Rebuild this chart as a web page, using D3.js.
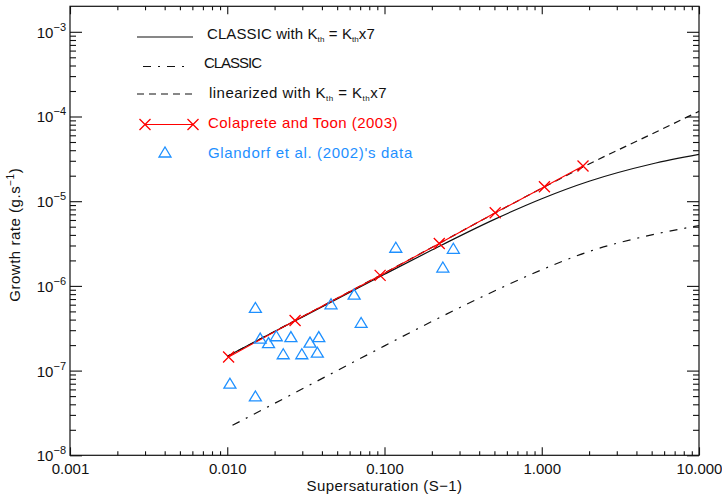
<!DOCTYPE html>
<html><head><meta charset="utf-8">
<script src="https://cdn.jsdelivr.net/npm/d3@7"></script>
<style>body{margin:0;background:#fff}svg{display:block}text{font-family:"Liberation Sans",Arial,sans-serif}</style>
</head><body><svg id="c" width="722" height="500"></svg>
<script>
// ---- tick labels ----
const xTickValues = [0.001, 0.01, 0.1, 1, 10];
const xTickLabels = ["0.001", "0.010", "0.100", "1.000", "10.000"];
const yTickValues = [1e-8, 1e-7, 1e-6, 1e-5, 1e-4, 1e-3];
const yTickExponents = ["−8", "−7", "−6", "−5", "−4", "−3"];

// ---- series: CLASSIC with Kth = Kth x7 (solid) ----
const classicK7X = [0.01, 0.02, 0.05, 0.1, 0.2, 0.5, 1, 2, 5, 10];
const classicK7Y = [1.48e-7, 2.9e-7, 7.0e-7, 1.37e-6, 2.65e-6, 6.1e-6, 1.07e-5, 1.72e-5, 2.75e-5, 3.57e-5];
// ---- CLASSIC (dash-dot) ----
const classicX = [0.0108, 0.02, 0.05, 0.1, 0.2, 0.5, 1, 2, 5, 10];
const classicY = [2.26e-8, 4.1e-8, 1.0e-7, 1.96e-7, 3.8e-7, 8.7e-7, 1.55e-6, 2.55e-6, 4.0e-6, 5.15e-6];
// ---- linearized with Kth = Kth x7 (dashed) ----
const linearX = [0.01, 0.1, 1, 2, 5, 10];
const linearY = [1.47e-7, 1.42e-6, 1.42e-5, 2.75e-5, 6.2e-5, 1.15e-4];
// ---- Colaprete and Toon (2003) ----
const colapreteX = [0.0102, 0.027, 0.0938, 0.223, 0.506, 1.04, 1.83];
const colapreteY = [1.45e-7, 3.9e-7, 1.33e-6, 3.16e-6, 7.3e-6, 1.48e-5, 2.6e-5];
// ---- Glandorf et al. (2002)'s data ----
const glandorfX = [0.0104, 0.0151, 0.0151, 0.0162, 0.0183, 0.0205, 0.0227, 0.0254, 0.0298, 0.0336, 0.0374, 0.0382, 0.0457, 0.0641, 0.0710, 0.118, 0.235, 0.274];
const glandorfY = [7.1e-8, 5.57e-7, 5.02e-8, 2.42e-7, 2.14e-7, 2.58e-7, 1.58e-7, 2.52e-7, 1.58e-7, 2.17e-7, 1.65e-7, 2.52e-7, 6.15e-7, 8.0e-7, 3.7e-7, 2.86e-6, 1.67e-6, 2.78e-6];

const RED = "#ff0000", BLUE = "#1e90ff", INK = "#111";
const svg = d3.select("#c");
svg.append("rect").attr("width", 722).attr("height", 500).attr("fill", "#fff");

const L = 70, R = 699, T = 6.3, B = 455.3;
const x = d3.scaleLog().domain([0.001, 10]).range([L, R]);
const y = d3.scaleLog().domain([1e-8, 2e-3]).range([B, T]);

// spread a text's letters so that it spans the given width
function fitWidth(sel, target) {
  const n = sel.node();
  const w = n.getComputedTextLength();
  const chars = n.textContent.length;
  sel.attr("letter-spacing", ((target - w) / chars).toFixed(2));
}

const xMinor = [];
xTickValues.slice(0, -1).forEach(d => { for (let k = 2; k < 10; k++) xMinor.push(d * k); });
const yMinor = [];
yTickValues.forEach(d => { for (let k = 2; k < 10; k++) { const v = d * k; if (v < 1.99e-3) yMinor.push(v); } });

function clean(g) { g.select(".domain").remove(); g.selectAll(".tick line").attr("stroke", INK).attr("stroke-width", 1.1); }

// bottom
svg.append("g").attr("transform", `translate(0,${B})`)
  .call(d3.axisBottom(x).tickValues(xTickValues).tickSize(-8).tickPadding(8.5).tickFormat((d, i) => xTickLabels[i]))
  .call(clean)
  .call(g => g.selectAll("text").attr("font-size", 15).attr("fill", INK).attr("font-family", null));
svg.append("g").attr("transform", `translate(0,${B})`)
  .call(d3.axisBottom(x).tickValues(xMinor).tickSize(-4).tickFormat("")).call(clean);
// top
svg.append("g").attr("transform", `translate(0,${T})`)
  .call(d3.axisTop(x).tickValues(xTickValues).tickSize(-8).tickFormat("")).call(clean);
svg.append("g").attr("transform", `translate(0,${T})`)
  .call(d3.axisTop(x).tickValues(xMinor).tickSize(-4).tickFormat("")).call(clean);
// left
const leftAxis = svg.append("g").attr("transform", `translate(${L},0)`)
  .call(d3.axisLeft(y).tickValues(yTickValues).tickSize(-12).tickFormat("")).call(clean);
leftAxis.selectAll(".tick").each(function (d, i) {
  const t = d3.select(this).append("text").attr("x", -4).attr("y", 5.5)
    .attr("text-anchor", "end").attr("font-size", 15).attr("fill", INK);
  t.append("tspan").text("10");
  t.append("tspan").attr("dy", -7).attr("font-size", 11).text(yTickExponents[i]);
});
svg.append("g").attr("transform", `translate(${L},0)`)
  .call(d3.axisLeft(y).tickValues(yMinor).tickSize(-6).tickFormat("")).call(clean);
// right
svg.append("g").attr("transform", `translate(${R},0)`)
  .call(d3.axisRight(y).tickValues(yTickValues).tickSize(-12).tickFormat("")).call(clean);
svg.append("g").attr("transform", `translate(${R},0)`)
  .call(d3.axisRight(y).tickValues(yMinor).tickSize(-6).tickFormat("")).call(clean);

svg.append("rect").attr("x", L).attr("y", T).attr("width", R - L).attr("height", B - T)
  .attr("fill", "none").attr("stroke", INK).attr("stroke-width", 1.2);

// titles
const xt = svg.append("text").attr("x", (L + R) / 2).attr("y", 491).attr("text-anchor", "middle")
  .attr("font-size", 15).attr("fill", INK).text("Supersaturation (S−1)");
fitWidth(xt, 156);
const yt = svg.append("text").attr("transform", `translate(20,${(T + B) / 2 + 4}) rotate(-90)`)
  .attr("text-anchor", "middle").attr("font-size", 15).attr("fill", INK);
yt.append("tspan").text("Growth rate (g.s");
yt.append("tspan").attr("dy", -6).attr("font-size", 10).text("−1");
yt.append("tspan").attr("dy", 6).text(")");
fitWidth(yt, 134);

// series
svg.append("clipPath").attr("id", "pc").append("rect")
  .attr("x", L).attr("y", T).attr("width", R - L).attr("height", B - T);
const plot = svg.append("g").attr("clip-path", "url(#pc)");
const line = d3.line().x(d => x(d[0])).y(d => y(d[1])).curve(d3.curveMonotoneX);
const zip = (a, b) => a.map((v, i) => [v, b[i]]);

plot.append("path").datum(zip(classicK7X, classicK7Y)).attr("d", line)
  .attr("fill", "none").attr("stroke", INK).attr("stroke-width", 1.2);
plot.append("path").datum(zip(classicX, classicY)).attr("d", line)
  .attr("fill", "none").attr("stroke", INK).attr("stroke-width", 1.2).attr("stroke-dasharray", "8,7,2,7");
plot.append("path").datum(zip(linearX, linearY)).attr("d", line)
  .attr("fill", "none").attr("stroke", INK).attr("stroke-width", 1.2).attr("stroke-dasharray", "7,5");

const crossPath = "M-5.5,-5.5L5.5,5.5M-5.5,5.5L5.5,-5.5";
const triPath = "M-6,5L0,-5L6,5Z";
const col = zip(colapreteX, colapreteY);
plot.append("path").datum(col).attr("d", d3.line().x(d => x(d[0])).y(d => y(d[1])))
  .attr("fill", "none").attr("stroke", RED).attr("stroke-width", 1.1);
plot.selectAll(".cx").data(col).join("path").attr("class", "cx")
  .attr("transform", d => `translate(${x(d[0])},${y(d[1])})`).attr("d", crossPath)
  .attr("stroke", RED).attr("stroke-width", 1.3).attr("fill", "none");
plot.selectAll(".tri").data(zip(glandorfX, glandorfY)).join("path").attr("class", "tri")
  .attr("transform", d => `translate(${x(d[0])},${y(d[1])})`).attr("d", triPath)
  .attr("stroke", BLUE).attr("stroke-width", 1.3).attr("fill", "none");

// legend
const legendLabels = [
  [["CLASSIC with K"], ["th", 1], [" = K"], ["th", 1], ["x7"]],
  [["CLASSIC"]],
  [["linearized with K"], ["th", 1], [" = K"], ["th", 1], ["x7"]],
  [["Colaprete and Toon (2003)"]],
  [["Glandorf et al. (2002)'s data"]]
];
const legendTextX = [207, 204, 209, 208, 208];
const legendTextY = [38.5, 68, 98, 128, 158];
const legendTextW = [168, 57, 178, 190, 205];
const legendColors = [INK, INK, INK, RED, BLUE];
const lg = svg.append("g");
legendLabels.forEach((segs, i) => {
  const t = lg.append("text").attr("x", legendTextX[i]).attr("y", legendTextY[i])
    .attr("font-size", 15).attr("fill", legendColors[i]);
  let sub = false;
  segs.forEach(s => {
    const ts = t.append("tspan").text(s[0]);
    if (s[1] && !sub) { ts.attr("dy", 3).attr("font-size", 8); sub = true; }
    else if (!s[1] && sub) { ts.attr("dy", -3); sub = false; }
  });
  fitWidth(t, legendTextW[i]);
});
lg.append("line").attr("x1", 137).attr("x2", 193).attr("y1", 37).attr("y2", 37).attr("stroke", INK).attr("stroke-width", 1.2);
lg.append("line").attr("x1", 143).attr("x2", 190).attr("y1", 66.5).attr("y2", 66.5).attr("stroke", INK).attr("stroke-width", 1.2).attr("stroke-dasharray", "8,7,2,7");
lg.append("line").attr("x1", 137).attr("x2", 193).attr("y1", 94).attr("y2", 94).attr("stroke", INK).attr("stroke-width", 1.2).attr("stroke-dasharray", "7,5");
lg.append("line").attr("x1", 145).attr("x2", 193).attr("y1", 124.5).attr("y2", 124.5).attr("stroke", RED).attr("stroke-width", 1.1);
[145, 193].forEach(cx => lg.append("path").attr("transform", `translate(${cx},124.5)`).attr("d", crossPath).attr("stroke", RED).attr("stroke-width", 1.3).attr("fill", "none"));
lg.append("path").attr("transform", "translate(165,152)").attr("d", triPath).attr("stroke", BLUE).attr("stroke-width", 1.3).attr("fill", "none");
</script></body></html>
